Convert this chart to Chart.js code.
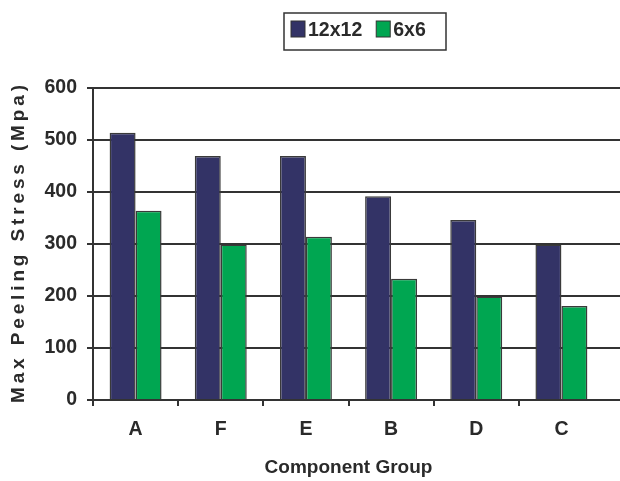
<!DOCTYPE html>
<html>
<head>
<meta charset="utf-8">
<script src="https://cdn.jsdelivr.net/npm/chart.js@4/dist/chart.umd.min.js"></script>
<style>
  html, body { margin: 0; padding: 0; background: #ffffff; }
  canvas { display: block; }
</style>
</head>
<body>
<canvas id="chart" width="620" height="481"></canvas>
<script>
// Component groups along the x axis
const categories = ['A', 'F', 'E', 'B', 'D', 'C'];
// Max peeling stress (MPa) per group
const series12x12 = [514, 469, 469, 392, 346, 299];
const series6x6 = [364, 299, 314, 233, 199, 181];
const seriesNames = ['12x12', '6x6'];
// Y axis range and step
const yMin = 0;
const yMax = 600;
const yStep = 100;

const INK = '#2a2a2a';
const LINE = '#333333';
const FONT = '"Liberation Sans", Arial, sans-serif';

// Boxed legend drawn above the plot
const boxedLegend = {
  id: 'boxedLegend',
  afterDraw(chart) {
    const ctx = chart.ctx;
    ctx.save();
    ctx.strokeStyle = LINE;
    ctx.lineWidth = 1.5;
    ctx.strokeRect(284, 13, 162, 37);
    ctx.font = 'bold 19.5px ' + FONT;
    ctx.textBaseline = 'alphabetic';
    let x = 291;
    chart.data.datasets.forEach((ds) => {
      ctx.fillStyle = ds.backgroundColor;
      ctx.fillRect(x, 21, 14, 16);
      ctx.strokeStyle = LINE;
      ctx.lineWidth = 1;
      ctx.strokeRect(x, 21, 14, 16);
      ctx.fillStyle = INK;
      ctx.fillText(ds.label, x + 17, 35.5);
      x += 17 + ctx.measureText(ds.label).width + 14;
    });
    ctx.restore();
  }
};

// Letter-spaced vertical title for the value axis
const spacedYTitle = {
  id: 'spacedYTitle',
  afterDraw(chart) {
    const text = 'Max Peeling Stress (Mpa)';
    const ctx = chart.ctx;
    const area = chart.chartArea;
    ctx.save();
    ctx.font = 'bold 19px ' + FONT;
    ctx.fillStyle = INK;
    ctx.textBaseline = 'middle';
    ctx.textAlign = 'left';
    const chars = Array.from(text);
    const widths = chars.map(c => ctx.measureText(c).width);
    const span = 318;
    const gap = (span - widths.reduce((a, b) => a + b, 0)) / (chars.length - 1);
    ctx.translate(19, (area.top + area.bottom) / 2);
    ctx.rotate(-Math.PI / 2);
    let x = -span / 2;
    chars.forEach((c, i) => {
      ctx.fillText(c, x, 0);
      x += widths[i] + gap;
    });
    ctx.restore();
  }
};

// Carry the horizontal rules on to the right edge of the canvas
const extendRules = {
  id: 'extendRules',
  beforeDatasetsDraw(chart) {
    const ctx = chart.ctx;
    const y = chart.scales.y;
    const right = chart.chartArea.right;
    ctx.save();
    ctx.strokeStyle = LINE;
    ctx.lineWidth = 2;
    for (let v = yMin; v <= yMax; v += yStep) {
      const py = y.getPixelForValue(v);
      ctx.beginPath();
      ctx.moveTo(right - 1, py);
      ctx.lineTo(chart.width, py);
      ctx.stroke();
    }
    ctx.restore();
  }
};

new Chart(document.getElementById('chart'), {
  type: 'bar',
  data: {
    labels: categories,
    datasets: [
      {
        label: seriesNames[0],
        data: series12x12,
        backgroundColor: '#333366',
        borderColor: '#3a3a3a',
        borderWidth: 1.5
      },
      {
        label: seriesNames[1],
        data: series6x6,
        backgroundColor: '#00a651',
        borderColor: '#3a3a3a',
        borderWidth: 1.5
      }
    ]
  },
  options: {
    responsive: false,
    animation: false,
    devicePixelRatio: 1,
    layout: { padding: { top: 88, right: 16, left: 0, bottom: 0 } },
    datasets: {
      bar: { categoryPercentage: 0.61, barPercentage: 1.0 }
    },
    plugins: {
      legend: { display: false },
      tooltip: { enabled: false },
      title: { display: false }
    },
    scales: {
      x: {
        afterFit(scale) { scale.height = 81; },
        grid: {
          display: true,
          drawOnChartArea: false,
          drawTicks: true,
          tickLength: 6,
          offset: true,
          lineWidth: 2,
          // no closing tick mark after the last group
          color: ctx => (ctx.tick ? LINE : 'rgba(0,0,0,0)')
        },
        border: { display: true, color: LINE, width: 2 },
        ticks: {
          color: INK,
          padding: 12,
          font: { family: FONT, size: 19.5, weight: 'bold' }
        },
        title: {
          display: true,
          text: 'Component Group',
          color: INK,
          padding: { top: 0, bottom: 4 },
          font: { family: FONT, size: 19, weight: 'bold', lineHeight: 1 }
        }
      },
      y: {
        min: yMin,
        max: yMax,
        afterFit(scale) { scale.width = 93; },
        grid: {
          color: LINE,
          lineWidth: 2,
          tickLength: 6,
          drawTicks: true
        },
        border: { display: true, color: LINE, width: 2 },
        ticks: {
          stepSize: yStep,
          color: INK,
          padding: 10,
          font: { family: FONT, size: 19.5, weight: 'bold' }
        }
      }
    }
  },
  plugins: [extendRules, boxedLegend, spacedYTitle]
});
</script>
</body>
</html>
